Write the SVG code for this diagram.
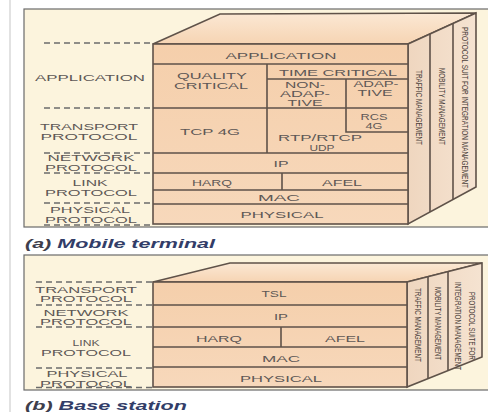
<svg xmlns="http://www.w3.org/2000/svg" width="488" height="412" viewBox="0 0 488 412">
<defs>
<linearGradient id="topA" x1="0" y1="1" x2="0" y2="0"><stop offset="0" stop-color="#f6d4b3"/><stop offset="1" stop-color="#fbe8d4"/></linearGradient>
<linearGradient id="frontG" x1="0" y1="0" x2="0" y2="1"><stop offset="0" stop-color="#f5cfab"/><stop offset="1" stop-color="#f7d8bb"/></linearGradient>
<linearGradient id="sideG" x1="0" y1="0" x2="1" y2="0"><stop offset="0" stop-color="#efd6bf"/><stop offset="1" stop-color="#f5e3d1"/></linearGradient>
</defs>
<style>
.frame{fill:#fcf4dd;stroke:#6a6a6a;stroke-width:1.2}
.ln{stroke:#5f5249;stroke-width:1.6;fill:none}
.box{stroke:#5f5249;stroke-width:1.6}
.dash{stroke:#6b6b6b;stroke-width:1.6;stroke-dasharray:6 4;fill:none}
.t{font-family:"Liberation Sans",Arial,sans-serif;font-size:9px;fill:#5e5856;text-anchor:middle}
.s{font-family:"Liberation Sans",Arial,sans-serif;font-size:9px;fill:#4a403a;text-anchor:middle}
.cap{font-family:"Liberation Sans",Arial,sans-serif;font-size:12px;font-style:italic;font-weight:bold}
</style>
<rect x="0" y="0" width="488" height="412" fill="#ffffff"/>
<line x1="10" y1="0" x2="10" y2="412" stroke="#e2e2e2" stroke-width="2"/>

<!-- Panel (a) -->
<g id="panel-a">
<rect class="frame" x="24" y="9" width="470" height="218"/>
<polygon class="box" points="153,44 220,14 476,13 408,44" fill="url(#topA)"/>
<polygon class="box" points="408,44 476,13 476,187 408,224" fill="url(#sideG)"/>
<rect class="box" x="153" y="44" width="255" height="180" fill="url(#frontG)"/>
</g>
<g id="connectors-a">
<line class="dash" x1="44" y1="43" x2="152" y2="43"/>
<line class="dash" x1="44" y1="108" x2="152" y2="108"/>
<line class="dash" x1="44" y1="153" x2="152" y2="153"/>
<line class="dash" x1="44" y1="173" x2="152" y2="173"/>
<line class="dash" x1="44" y1="203" x2="152" y2="203"/>
<line class="dash" x1="44" y1="225" x2="152" y2="225"/>
<path class="ln" d="M153 64H408 M267 64V153 M267 79H408 M153 108H408 M346 79V132H408 M153 153H408 M153 173H408 M282 173V190 M153 190H408 M153 204H408"/>
<path class="ln" d="M430 34V212 M453 23.5V199.5"/>
</g>
<g id="a-left-labels">
<text class="t" x="90" y="80.5" textLength="110" lengthAdjust="spacingAndGlyphs">APPLICATION</text>
<text class="t" x="89" y="130" textLength="98" lengthAdjust="spacingAndGlyphs">TRANSPORT</text>
<text class="t" x="89" y="139.5" textLength="97" lengthAdjust="spacingAndGlyphs">PROTOCOL</text>
<text class="t" x="91" y="161" textLength="87" lengthAdjust="spacingAndGlyphs">NETWORK</text>
<text class="t" x="91" y="171" textLength="92" lengthAdjust="spacingAndGlyphs">PROTOCOL</text>
<text class="t" x="90" y="186" textLength="35" lengthAdjust="spacingAndGlyphs">LINK</text>
<text class="t" x="91" y="195.5" textLength="92" lengthAdjust="spacingAndGlyphs">PROTOCOL</text>
<text class="t" x="90" y="213" textLength="80" lengthAdjust="spacingAndGlyphs">PHYSICAL</text>
<text class="t" x="91" y="222.5" textLength="92" lengthAdjust="spacingAndGlyphs">PROTOCOL</text>
</g>
<g id="a-application"><text class="t" x="281" y="58.5" textLength="111" lengthAdjust="spacingAndGlyphs">APPLICATION</text></g>
<g id="a-quality-critical">
<text class="t" x="212" y="79" textLength="70" lengthAdjust="spacingAndGlyphs">QUALITY</text>
<text class="t" x="211" y="89" textLength="74" lengthAdjust="spacingAndGlyphs">CRITICAL</text>
</g>
<g id="a-time-critical"><text class="t" x="338" y="75.5" textLength="118" lengthAdjust="spacingAndGlyphs">TIME CRITICAL</text></g>
<g id="a-non-adaptive">
<text class="t" x="305" y="88" textLength="40" lengthAdjust="spacingAndGlyphs">NON-</text>
<text class="t" x="305" y="97" textLength="50" lengthAdjust="spacingAndGlyphs">ADAP-</text>
<text class="t" x="305" y="106" textLength="35" lengthAdjust="spacingAndGlyphs">TIVE</text>
</g>
<g id="a-adaptive">
<text class="t" x="376" y="87" textLength="45" lengthAdjust="spacingAndGlyphs">ADAP-</text>
<text class="t" x="375" y="96" textLength="35" lengthAdjust="spacingAndGlyphs">TIVE</text>
</g>
<g id="a-rcs4g">
<text class="t" x="374" y="120" textLength="27" lengthAdjust="spacingAndGlyphs">RCS</text>
<text class="t" x="374" y="129" textLength="17" lengthAdjust="spacingAndGlyphs">4G</text>
</g>
<g id="a-tcp4g"><text class="t" x="210" y="134.5" textLength="60" lengthAdjust="spacingAndGlyphs">TCP 4G</text></g>
<g id="a-rtp-udp">
<text class="t" x="320" y="141" textLength="84" lengthAdjust="spacingAndGlyphs">RTP/RTCP</text>
<text class="t" x="322" y="150.5" textLength="25" lengthAdjust="spacingAndGlyphs">UDP</text>
</g>
<g id="a-ip"><text class="t" x="281" y="166.5" textLength="15" lengthAdjust="spacingAndGlyphs">IP</text></g>
<g id="a-harq"><text class="t" x="212" y="185.5" textLength="40" lengthAdjust="spacingAndGlyphs">HARQ</text></g>
<g id="a-afel"><text class="t" x="342" y="185.5" textLength="40" lengthAdjust="spacingAndGlyphs">AFEL</text></g>
<g id="a-mac"><text class="t" x="279" y="200.5" textLength="42" lengthAdjust="spacingAndGlyphs">MAC</text></g>
<g id="a-physical"><text class="t" x="282" y="217.5" textLength="83" lengthAdjust="spacingAndGlyphs">PHYSICAL</text></g>
<g id="a-traffic"><text class="s" transform="translate(419,107.5) rotate(90)" x="0" y="3.2" textLength="75" lengthAdjust="spacingAndGlyphs">TRAFFIC MANAGEMENT</text></g>
<g id="a-mobility"><text class="s" transform="translate(442,106.5) rotate(90)" x="0" y="3.2" textLength="77" lengthAdjust="spacingAndGlyphs">MOBILITY MANAGEMENT</text></g>
<g id="a-integration"><text class="s" transform="translate(465,107.5) rotate(90)" x="0" y="3.2" textLength="161" lengthAdjust="spacingAndGlyphs">PROTOCOL SUIT FOR INTEGRATION MANAGEMENT</text></g>
<g id="caption-a"><text class="cap" x="25" y="247.5" textLength="190" lengthAdjust="spacingAndGlyphs"><tspan fill="#3e3e4c">(a) </tspan><tspan fill="#323d68">Mobile terminal</tspan></text></g>

<!-- Panel (b) -->
<g id="panel-b">
<rect class="frame" x="24" y="255" width="470" height="135"/>
<polygon class="box" points="153,282 230,263 482,263 407,282" fill="url(#topA)"/>
<polygon class="box" points="407,282 482,263 482,357 407,387" fill="url(#sideG)"/>
<rect class="box" x="153" y="282" width="254" height="105" fill="url(#frontG)"/>
</g>
<g id="connectors-b">
<line class="dash" x1="36" y1="282" x2="152" y2="282"/>
<line class="dash" x1="36" y1="305" x2="152" y2="305"/>
<line class="dash" x1="36" y1="327" x2="152" y2="327"/>
<line class="dash" x1="36" y1="368" x2="152" y2="368"/>
<line class="dash" x1="36" y1="387.5" x2="152" y2="387.5"/>
<path class="ln" d="M153 305H407 M153 327H407 M281 327V347 M153 347H407 M153 367H407"/>
<path class="ln" d="M428 276.7V378.6 M448 271.6V370.6"/>
</g>
<g id="b-left-labels">
<text class="t" x="86" y="292.5" textLength="102" lengthAdjust="spacingAndGlyphs">TRANSPORT</text>
<text class="t" x="86" y="301.5" textLength="92" lengthAdjust="spacingAndGlyphs">PROTOCOL</text>
<text class="t" x="86" y="316" textLength="85" lengthAdjust="spacingAndGlyphs">NETWORK</text>
<text class="t" x="86" y="325" textLength="92" lengthAdjust="spacingAndGlyphs">PROTOCOL</text>
<text class="t" x="86" y="346" textLength="27" lengthAdjust="spacingAndGlyphs">LINK</text>
<text class="t" x="86" y="355.5" textLength="90" lengthAdjust="spacingAndGlyphs">PROTOCOL</text>
<text class="t" x="87" y="377" textLength="81" lengthAdjust="spacingAndGlyphs">PHYSICAL</text>
<text class="t" x="86" y="386.5" textLength="92" lengthAdjust="spacingAndGlyphs">PROTOCOL</text>
</g>
<g id="b-tsl"><text class="t" x="274" y="296.5" textLength="25" lengthAdjust="spacingAndGlyphs">TSL</text></g>
<g id="b-ip"><text class="t" x="281" y="319.5" textLength="14" lengthAdjust="spacingAndGlyphs">IP</text></g>
<g id="b-harq"><text class="t" x="219" y="341.5" textLength="46" lengthAdjust="spacingAndGlyphs">HARQ</text></g>
<g id="b-afel"><text class="t" x="345" y="341.5" textLength="40" lengthAdjust="spacingAndGlyphs">AFEL</text></g>
<g id="b-mac"><text class="t" x="281" y="361.5" textLength="38" lengthAdjust="spacingAndGlyphs">MAC</text></g>
<g id="b-physical"><text class="t" x="281" y="381.5" textLength="82" lengthAdjust="spacingAndGlyphs">PHYSICAL</text></g>
<g id="b-traffic"><text class="s" transform="translate(418,325) rotate(90)" x="0" y="3.2" textLength="74" lengthAdjust="spacingAndGlyphs">TRAFFIC MANAGEMENT</text></g>
<g id="b-mobility"><text class="s" transform="translate(438,323.5) rotate(90)" x="0" y="3.2" textLength="73" lengthAdjust="spacingAndGlyphs">MOBILITY MANAGEMENT</text></g>
<g id="b-integration">
<text class="s" transform="translate(472,326) rotate(90)" x="0" y="3.2" textLength="68" lengthAdjust="spacingAndGlyphs">PROTOCOL SUITE FOR</text>
<text class="s" transform="translate(458,326) rotate(90)" x="0" y="3.2" textLength="88" lengthAdjust="spacingAndGlyphs">INTEGRATION MANAGEMENT</text>
</g>
<g id="caption-b"><text class="cap" x="25" y="410" textLength="162" lengthAdjust="spacingAndGlyphs"><tspan fill="#3e3e4c">(b) </tspan><tspan fill="#323d68">Base station</tspan></text></g>
</svg>
